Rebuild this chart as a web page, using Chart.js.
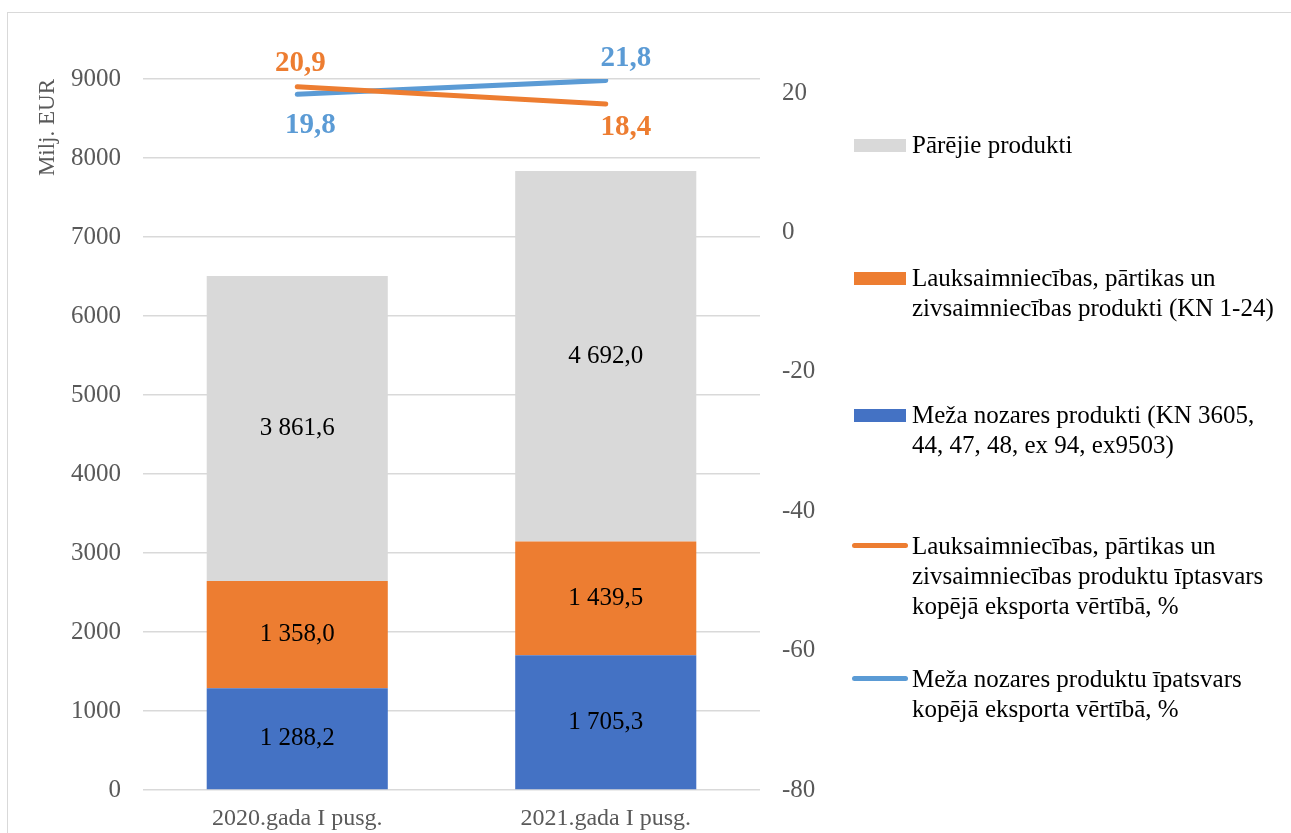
<!DOCTYPE html>
<html>
<head>
<meta charset="utf-8">
<script src="https://cdn.jsdelivr.net/npm/chart.js@4.4.1/dist/chart.umd.min.js"></script>
<style>
    html, body { margin: 0; padding: 0; background: #fff; }
    #wrap { position: relative; width: 1291px; height: 833px; overflow: hidden; }
    #frame { position: absolute; left: 7px; top: 12px; width: 1300px; height: 900px;
             border: 1.5px solid #d9d9d9; pointer-events: none; }
    #legend { position: absolute; left: 0; top: 0; width: 1291px; height: 833px; pointer-events: none;
              font-family: 'Liberation Serif', serif; font-size: 25px; line-height: 30px; color: #000; }
    .item { position: absolute; left: 852px; }
    .item .sw { position: absolute; left: 0; }
    .item .txt { position: absolute; left: 60px; white-space: nowrap; }
</style>
</head>
<body>
<div id="wrap">
    <canvas id="exportChart" width="1291" height="833"></canvas>
    <div id="frame"></div>
    <div id="legend"></div>
</div>
<script>
// chart data
const categories = ['2020.gada I pusg.', '2021.gada I pusg.'];
const forestValues = [1288.2, 1705.3];
const agriValues = [1358.0, 1439.5];
const otherValues = [3861.6, 4692.0];
const agriShare = [20.9, 18.4];
const forestShare = [19.8, 21.8];

const labelOther = 'Pārējie produkti';
const labelAgri = ['Lauksaimniecības, pārtikas un', 'zivsaimniecības produkti (KN 1-24)'];
const labelForest = ['Meža nozares produkti (KN 3605,', '44, 47, 48, ex 94, ex9503)'];
const labelAgriShare = ['Lauksaimniecības, pārtikas un', 'zivsaimniecības produktu īptasvars', 'kopējā eksporta vērtībā, %'];
const labelForestShare = ['Meža nozares produktu īpatsvars', 'kopējā eksporta vērtībā, %'];

const FONT = "'Liberation Serif', serif";
const GREY = '#d9d9d9';
const ORANGE = '#ed7d31';
const BLUE_BAR = '#4472c4';
const BLUE_LINE = '#5b9bd5';

// label offsets for the line values (dx, dy from the point)
const agriLabelOffsets = [[3, -23], [20, 23]];
const forestLabelOffsets = [[13, 31], [20, -22]];

function fmt(v) {
    const parts = v.toFixed(1).split('.');
    return parts[0].replace(/\B(?=(\d{3})+(?!\d))/g, ' ') + ',' + parts[1];
}

// draws value labels for bars and lines
const valueLabels = {
    id: 'valueLabels',
    afterDatasetsDraw(chart) {
        const ctx = chart.ctx;
        ctx.save();
        ctx.textAlign = 'center';
        ctx.textBaseline = 'middle';
        chart.data.datasets.forEach((ds, i) => {
            const meta = chart.getDatasetMeta(i);
            meta.data.forEach((el, j) => {
                const v = ds.data[j];
                if (ds.type === 'bar') {
                    ctx.font = '25px ' + FONT;
                    ctx.fillStyle = '#000';
                    ctx.fillText(fmt(v), el.x, (el.y + el.base) / 2);
                } else {
                    const off = ds.labelOffsets[j];
                    ctx.font = 'bold 29px ' + FONT;
                    ctx.fillStyle = ds.borderColor;
                    ctx.fillText(fmt(v), el.x + off[0], el.y + off[1]);
                }
            });
        });
        ctx.restore();
    }
};

const ctx = document.getElementById('exportChart').getContext('2d');
const chart = new Chart(ctx, {
    data: {
        labels: categories,
        datasets: [
            { type: 'bar', label: labelForest.join(' '), data: forestValues, backgroundColor: BLUE_BAR, order: 1 },
            { type: 'bar', label: labelAgri.join(' '), data: agriValues, backgroundColor: ORANGE, order: 1 },
            { type: 'bar', label: labelOther, data: otherValues, backgroundColor: GREY, order: 1 },
            { type: 'line', label: labelAgriShare.join(' '), data: agriShare, yAxisID: 'y1',
              borderColor: ORANGE, backgroundColor: ORANGE, borderWidth: 5, borderCapStyle: 'round',
              pointRadius: 0, tension: 0, order: 0, labelOffsets: agriLabelOffsets },
            { type: 'line', label: labelForestShare.join(' '), data: forestShare, yAxisID: 'y1',
              borderColor: BLUE_LINE, backgroundColor: BLUE_LINE, borderWidth: 5, borderCapStyle: 'round',
              pointRadius: 0, tension: 0, order: 0, labelOffsets: forestLabelOffsets }
        ]
    },
    options: {
        responsive: false,
        devicePixelRatio: 1,
        animation: false,
        datasets: {
            bar: { categoryPercentage: 1, barPercentage: 0.587 }
        },
        layout: { padding: { top: 79, right: 461, left: 0, bottom: 0 } },
        plugins: {
            legend: { display: false },
            tooltip: { enabled: false }
        },
        scales: {
            x: {
                stacked: true,
                grid: { display: false },
                border: { display: false },
                ticks: { font: { family: FONT, size: 24 }, color: '#595959', padding: 6 },
                afterFit(s) { s.height = 43; }
            },
            y: {
                stacked: true,
                position: 'left',
                min: 0,
                max: 9000,
                grid: { color: GREY, lineWidth: 1.5, drawTicks: false },
                border: { display: false },
                ticks: {
                    stepSize: 1000, font: { family: FONT, size: 25 }, color: '#595959', padding: 22,
                    callback: v => String(v)
                },
                title: {
                    display: true, text: 'Milj. EUR', align: 'end', color: '#595959',
                    font: { family: FONT, size: 23 }, padding: { top: 34, bottom: 0 }
                },
                afterFit(s) { s.width = 143; }
            },
            y1: {
                position: 'right',
                min: -80,
                max: 22,
                grid: { drawOnChartArea: false, drawTicks: false },
                border: { display: false },
                ticks: {
                    stepSize: 20, includeBounds: false, font: { family: FONT, size: 25 },
                    color: '#595959', padding: 22, callback: v => String(v)
                },
                afterFit(s) { s.width = 70; }
            }
        }
    },
    plugins: [valueLabels]
});

// legend (html, multi-line text)
const legendItems = [
    { lines: [labelOther], color: GREY, kind: 'box', top: 130 },
    { lines: labelAgri, color: ORANGE, kind: 'box', top: 263 },
    { lines: labelForest, color: BLUE_BAR, kind: 'box', top: 400 },
    { lines: labelAgriShare, color: ORANGE, kind: 'line', top: 531 },
    { lines: labelForestShare, color: BLUE_LINE, kind: 'line', top: 664 }
];
const legendEl = document.getElementById('legend');
legendItems.forEach(item => {
    const div = document.createElement('div');
    div.className = 'item';
    div.style.top = item.top + 'px';
    const sw = document.createElement('div');
    sw.className = 'sw';
    if (item.kind === 'box') {
        sw.style.cssText += 'left:2px;top:9px;width:52px;height:13px;background:' + item.color;
    } else {
        sw.style.cssText += 'left:0;top:12px;width:56px;height:5px;border-radius:3px;background:' + item.color;
    }
    const txt = document.createElement('div');
    txt.className = 'txt';
    txt.innerHTML = item.lines.join('<br>');
    div.appendChild(sw);
    div.appendChild(txt);
    legendEl.appendChild(div);
});
</script>
</body>
</html>
